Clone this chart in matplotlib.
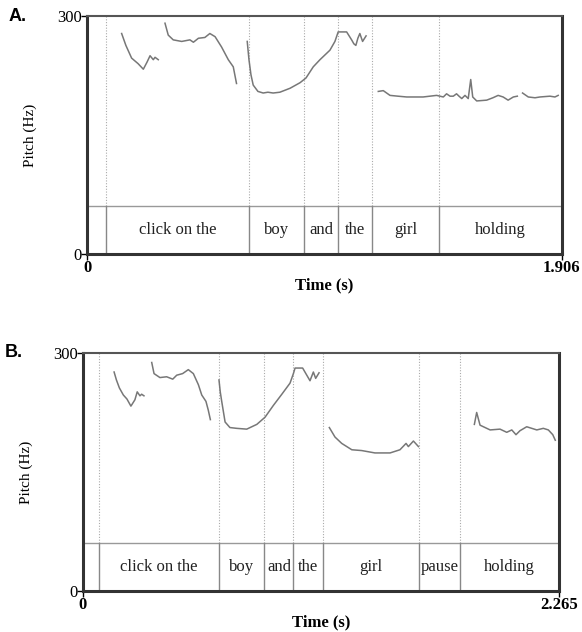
import matplotlib.pyplot as plt

# panel A: word boundaries (s), labels, pitch contours (time s, Hz)
a_end = 1.906
a_bounds = [0.0775, 0.651, 0.872, 1.006, 1.1445, 1.411]
a_words = ["click on the", "boy", "and", "the", "girl", "holding"]
a_t1 = [0.139, 0.156, 0.179, 0.205, 0.226, 0.241, 0.253, 0.266, 0.273, 0.286]
a_f1 = [278, 263, 247, 240, 233, 242, 250, 245, 248, 245]
a_t2 = [0.313, 0.326, 0.346, 0.380, 0.413, 0.427, 0.447, 0.473, 0.493, 0.514, 0.540, 0.567, 0.587, 0.600]
a_f2 = [291, 276, 270, 268, 270, 267, 272, 273, 278, 274, 261, 245, 236, 215]
a_t3 = [0.643, 0.650, 0.658, 0.667, 0.686, 0.707, 0.726, 0.747, 0.774, 0.815, 0.855, 0.879, 0.908,
        0.935, 0.955, 0.975, 0.995, 1.008, 1.042, 1.062, 1.071, 1.079, 1.087, 1.095, 1.106, 1.120]
a_f3 = [268, 245, 226, 213, 205, 203, 204, 203, 204, 209, 216, 222, 236,
        245, 251, 257, 268, 280, 280, 270, 265, 263, 272, 278, 268, 275]
a_t4 = [1.169, 1.189, 1.216, 1.248, 1.283, 1.316, 1.349, 1.403, 1.430, 1.443, 1.457, 1.470, 1.483, 1.493,
        1.504, 1.517, 1.530, 1.540, 1.548, 1.564, 1.604, 1.629, 1.650, 1.670, 1.690, 1.711, 1.727]
a_f4 = [205, 206, 200, 199, 198, 198, 198, 200, 198, 202, 199, 199, 202, 199,
        196, 200, 196, 220, 198, 193, 194, 197, 200, 198, 194, 198, 199]
a_t5 = [1.748, 1.771, 1.798, 1.818, 1.858, 1.878, 1.891]
a_f5 = [203, 198, 197, 198, 199, 198, 200]

# panel B
b_end = 2.265
b_bounds = [0.0744, 0.647, 0.863, 1.001, 1.140, 1.600, 1.794]
b_words = ["click on the", "boy", "and", "the", "girl", "pause", "holding"]
b_t1 = [0.148, 0.159, 0.173, 0.192, 0.209, 0.228, 0.247, 0.258, 0.271, 0.279, 0.290]
b_f1 = [276, 266, 256, 247, 242, 233, 241, 251, 246, 248, 246]
b_t2 = [0.327, 0.338, 0.366, 0.398, 0.427, 0.446, 0.474, 0.501, 0.525, 0.549, 0.565, 0.585, 0.596, 0.606]
b_f2 = [288, 274, 269, 270, 267, 272, 274, 279, 274, 260, 247, 239, 228, 216]
b_t3 = [0.647, 0.653, 0.660, 0.676, 0.699, 0.731, 0.779, 0.827, 0.866, 0.906, 0.946, 0.985,
        1.001, 1.009, 1.045, 1.080, 1.096, 1.107, 1.123]
b_f3 = [266, 251, 239, 213, 206, 205, 204, 210, 219, 234, 248, 262,
        274, 281, 281, 265, 276, 268, 275]
b_t4 = [1.172, 1.199, 1.231, 1.279, 1.326, 1.389, 1.461, 1.508, 1.537, 1.548, 1.572, 1.596]
b_f4 = [206, 194, 186, 178, 177, 174, 174, 178, 186, 182, 189, 182]
b_t5 = [1.862, 1.873, 1.889, 1.937, 1.984, 2.016, 2.040, 2.060, 2.079, 2.111, 2.159, 2.190, 2.214, 2.235, 2.247]
b_f5 = [210, 225, 209, 203, 204, 200, 203, 197, 202, 207, 203, 205, 203, 197, 190]

tier_top = 60
serif = "Liberation Serif"


def draw_panel(ax, end, bounds, words, contours, letter):
    ax.set_xlim(0, end)
    ax.set_ylim(0, 300)
    # tier box
    ax.axhline(tier_top, color="#999999", lw=1.0)
    edges = [0] + bounds + [end]
    for b in bounds:
        ax.plot([b, b], [tier_top, 300], color="#aaaaaa", lw=0.8, ls=(0, (1, 1.5)))
        ax.plot([b, b], [0, tier_top], color="#888888", lw=1.0)
    for i, w in enumerate(words):
        mid = (edges[i + 1] + edges[i + 2]) / 2
        ax.text(mid, tier_top / 2, w, ha="center", va="center",
                fontsize=12, family=serif, color="#222222")
    for t, f in contours:
        ax.plot(t, f, color="#777777", lw=1.1)

    for s in ["left", "bottom", "right"]:
        ax.spines[s].set_linewidth(2.2)
        ax.spines[s].set_color("#333333")
    ax.spines["top"].set_linewidth(1.5)
    ax.spines["top"].set_color("#555555")

    ax.set_yticks([0, 300])
    ax.set_yticklabels(["0", "300"], family=serif, fontsize=12)
    ax.set_xticks([0, end])
    ax.set_xticklabels(["0", f"{end:.3f}"], family=serif, fontsize=12, fontweight="bold")
    ax.tick_params(axis="y", length=4, width=1, pad=0)
    ax.tick_params(axis="x", length=4, width=1, pad=0)
    ax.set_ylabel("Pitch (Hz)", family=serif, fontsize=11, labelpad=14)
    ax.set_xlabel("Time (s)", family=serif, fontsize=12, fontweight="bold", labelpad=1)
    ax.text(-0.165, 1.0, letter, transform=ax.transAxes, family="Liberation Sans",
            fontsize=13, fontweight="bold", ha="left", va="center")


fig = plt.figure(figsize=(5.82, 6.32), dpi=100)
ax_a = fig.add_axes([0.1495, 0.598, 0.816, 0.3766])
ax_b = fig.add_axes([0.1426, 0.0649, 0.818, 0.3766])

draw_panel(ax_a, a_end, a_bounds, a_words,
           [(a_t1, a_f1), (a_t2, a_f2), (a_t3, a_f3), (a_t4, a_f4), (a_t5, a_f5)], "A.")
draw_panel(ax_b, b_end, b_bounds, b_words,
           [(b_t1, b_f1), (b_t2, b_f2), (b_t3, b_f3), (b_t4, b_f4), (b_t5, b_f5)], "B.")

fig.savefig("out.png", dpi=100)
